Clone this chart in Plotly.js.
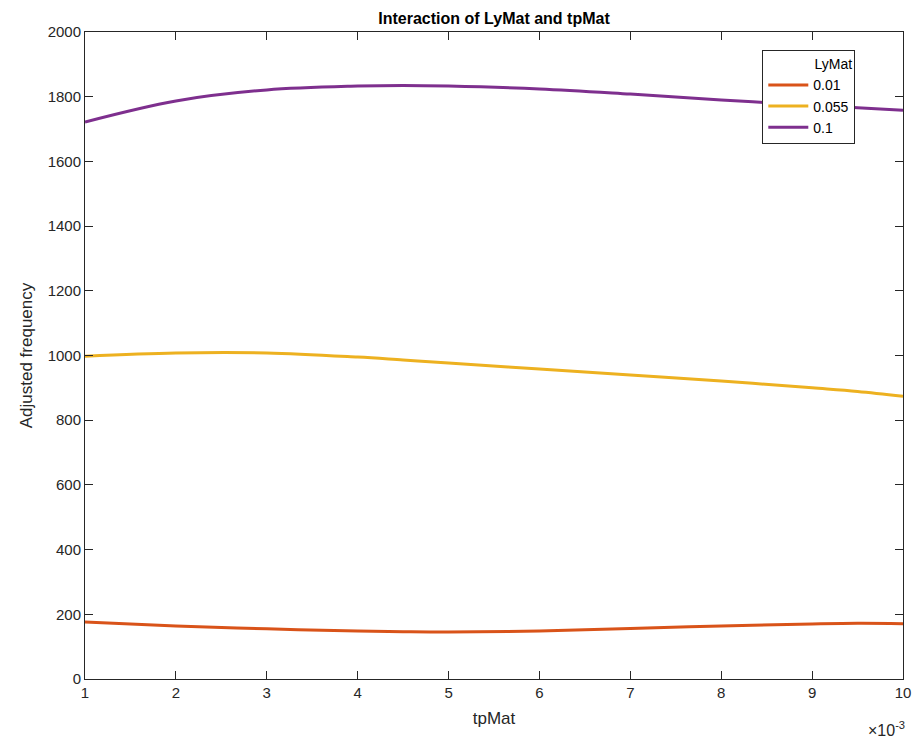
<!DOCTYPE html>
<html>
<head>
<meta charset="utf-8">
<script src="https://cdn.plot.ly/plotly-3.0.1.min.js"></script>
<style>
  html, body { margin: 0; padding: 0; background: #fff; }
  #chart { width: 918px; height: 742px; }
</style>
</head>
<body>
<div id="chart"></div>
<script>
// tpMat sample positions (seconds)
const tpMat = [0.001, 0.002, 0.003, 0.004, 0.0045, 0.005, 0.006, 0.007, 0.008, 0.009, 0.0095, 0.010];

// Adjusted frequency for each LyMat level
const freqLy001  = [176, 164, 155, 148, 146, 145, 148, 156, 164, 170, 172, 171];
const freqLy0055 = [998, 1008, 1008, 995, 986, 977, 958, 940, 921, 900, 889, 874];
const freqLy01   = [1722, 1787, 1821, 1833, 1835, 1833, 1824, 1808, 1790, 1774, 1766, 1758];

const seriesNames = ['0.01', '0.055', '0.1'];
const seriesColors = ['#D95319', '#EDB120', '#7E2F8E'];

const xTickVals = [0.001, 0.002, 0.003, 0.004, 0.005, 0.006, 0.007, 0.008, 0.009, 0.010];
const xTickText = ['1', '2', '3', '4', '5', '6', '7', '8', '9', '10'];
const yTickVals = [0, 200, 400, 600, 800, 1000, 1200, 1400, 1600, 1800, 2000];

const seriesData = [freqLy001, freqLy0055, freqLy01];
const traces = seriesData.map((ys, i) => ({
  x: tpMat,
  y: ys,
  name: seriesNames[i],
  type: 'scatter',
  mode: 'lines',
  line: { color: seriesColors[i], width: 3, shape: 'spline', smoothing: 1.0 }
}));

const axisColor = '#262626';
const font = 'Liberation Sans, Arial, Helvetica, sans-serif';

const layout = {
  width: 918,
  height: 742,
  margin: { l: 85, r: 15, t: 32, b: 63 },
  paper_bgcolor: '#ffffff',
  plot_bgcolor: '#ffffff',
  font: { family: font, size: 15, color: axisColor },
  title: {
    text: '<b>Interaction of LyMat and tpMat</b>',
    font: { family: font, size: 16, color: '#000000' },
    x: 0.5, xref: 'paper', xanchor: 'center',
    y: 1, yref: 'paper', yanchor: 'bottom', pad: { b: 8 }
  },
  xaxis: {
    range: [0.001, 0.010],
    tickvals: xTickVals,
    ticktext: xTickText,
    ticks: 'inside',
    ticklen: 8,
    tickwidth: 1,
    tickcolor: axisColor,
    showline: true,
    linecolor: axisColor,
    linewidth: 1,
    mirror: 'ticks',
    showgrid: false,
    zeroline: false,
    tickfont: { family: font, size: 15, color: axisColor },
    title: { text: 'tpMat', font: { family: font, size: 17, color: axisColor }, standoff: 12 }
  },
  yaxis: {
    range: [0, 2000],
    tickvals: yTickVals,
    ticks: 'inside',
    ticklen: 8,
    tickwidth: 1,
    tickcolor: axisColor,
    showline: true,
    linecolor: axisColor,
    linewidth: 1,
    mirror: 'ticks',
    showgrid: false,
    zeroline: false,
    tickfont: { family: font, size: 15, color: axisColor },
    title: { text: 'Adjusted frequency', font: { family: font, size: 17, color: axisColor }, standoff: 10 }
  },
  legend: {
    x: 0.828, xanchor: 'left',
    y: 0.972, yanchor: 'top',
    bgcolor: '#ffffff',
    bordercolor: axisColor,
    borderwidth: 1,
    font: { family: font, size: 14, color: '#000000' },
    title: { text: 'LyMat', side: 'top right', font: { family: font, size: 14, color: '#000000' } },
    tracegroupgap: 0,
    itemwidth: 40
  },
  annotations: [{
    text: '\u00d710<sup>-3</sup>',
    xref: 'paper', yref: 'paper',
    x: 1.0, y: 0, xanchor: 'right', yanchor: 'top',
    xshift: 4, yshift: -38,
    showarrow: false,
    font: { family: font, size: 16, color: axisColor }
  }]
};

Plotly.newPlot('chart', traces, layout, { displayModeBar: false, staticPlot: true });
</script>
</body>
</html>
